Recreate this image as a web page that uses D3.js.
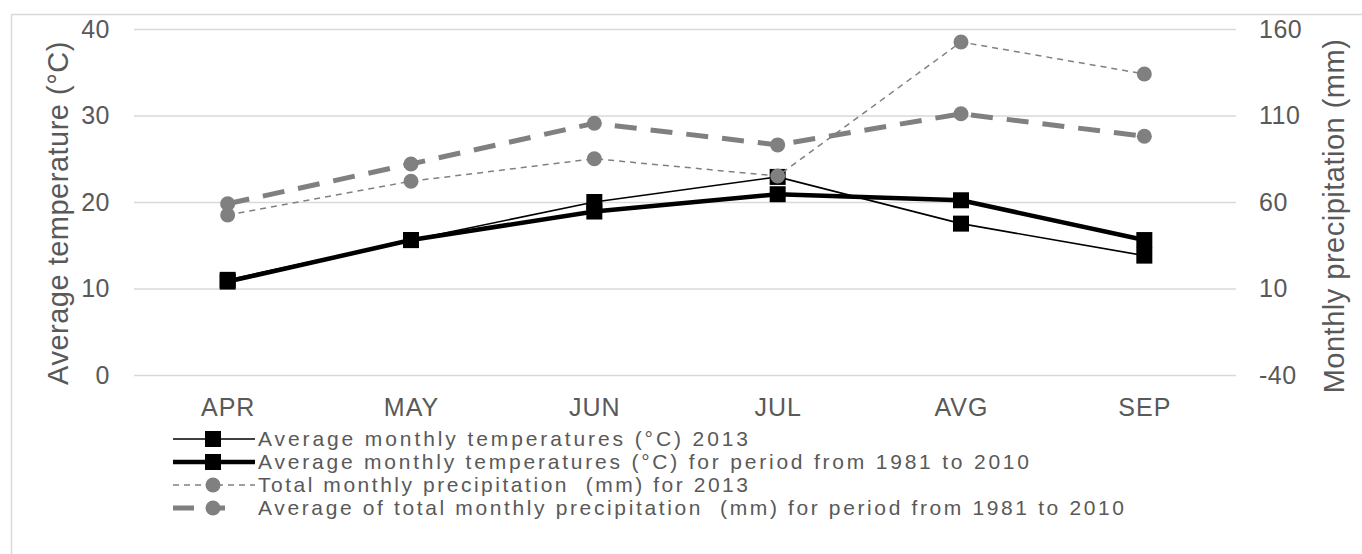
<!DOCTYPE html>
<html><head><meta charset="utf-8">
<script src="https://cdn.jsdelivr.net/npm/d3@7"></script>
<style>
body{margin:0;background:#fff;}
svg text{font-family:"Liberation Sans",Arial,sans-serif;fill:#595959;white-space:pre;}
</style></head>
<body><svg id="c" width="1362" height="554"></svg>
<script>
const months = ["APR","MAY","JUN","JUL","AVG","SEP"];
const temp2013 = [11.0, 15.6, 20.0, 22.9, 17.5, 13.8];
const tempAvg = [10.8, 15.6, 18.9, 20.9, 20.2, 15.6];
const precip2013 = [52.5, 72, 85, 75, 152.5, 134];
const precipAvg = [59, 82, 105.5, 93, 111, 98];
const tempTicks = [0, 10, 20, 30, 40];
const precipTicks = [-40, 10, 60, 110, 160];
const seriesNames = [
  "Average monthly temperatures (°C) 2013",
  "Average monthly temperatures (°C) for period from 1981 to 2010",
  "Total monthly precipitation  (mm) for 2013",
  "Average of total monthly precipitation  (mm) for period from 1981 to 2010"
];

const svg = d3.select("#c");
const L = 136, R = 1236, T = 29, B = 375;
const x = d3.scalePoint().domain(months).range([L, R]).padding(0.5);
const yL = d3.scaleLinear().domain([0, 40]).range([B, T]);
const yR = d3.scaleLinear().domain([-40, 160]).range([B, T]);
const fmt = d => String(d);

// outer border
svg.append("rect").attr("x", 11.5).attr("y", 14.5).attr("width", 1400).attr("height", 600)
  .attr("fill", "none").attr("stroke", "#d9d9d9").attr("stroke-width", 1.5);

// left axis + gridlines
const gl = svg.append("g").attr("transform", `translate(${L},0)`)
  .call(d3.axisLeft(yL).tickValues(tempTicks).tickFormat(fmt).tickSize(-(R - L + 2)).tickPadding(26));
gl.select(".domain").remove();
gl.selectAll(".tick line").attr("stroke", "#d9d9d9").attr("stroke-width", 1.5).attr("transform", "translate(-2,0)");
gl.selectAll(".tick text").style("font-size", "25px").style("letter-spacing", "0.5px");

// right axis
const gr = svg.append("g").attr("transform", `translate(${R},0)`)
  .call(d3.axisRight(yR).tickValues(precipTicks).tickFormat(fmt).tickSize(0).tickPadding(23));
gr.select(".domain").remove();
gr.selectAll(".tick text").style("font-size", "25px").style("letter-spacing", "0.5px");

// x axis
const gx = svg.append("g").attr("transform", `translate(0,${B})`)
  .call(d3.axisBottom(x).tickSize(0).tickPadding(23));
gx.select(".domain").remove();
gx.selectAll(".tick text").style("font-size", "25px").style("letter-spacing", "1px");

// axis titles
svg.append("text").attr("transform", "translate(68,213) rotate(-90)").attr("text-anchor", "middle")
  .style("font-size", "29px").style("letter-spacing", "0.5px").text("Average temperature (°C)");
svg.append("text").attr("transform", "translate(1344,216) rotate(-90)").attr("text-anchor", "middle")
  .style("font-size", "29px").style("letter-spacing", "0.5px").text("Monthly precipitation (mm)");

const styles = [
  {data: temp2013, y: yL, color: "#000", width: 1.6, dash: null, marker: "square", legDash: null},
  {data: tempAvg, y: yL, color: "#000", width: 4.5, dash: null, marker: "square", legDash: null},
  {data: precip2013, y: yR, color: "#808080", width: 1.5, dash: "6,5", marker: "circle", legDash: "6,5"},
  {data: precipAvg, y: yR, color: "#808080", width: 5, dash: "22,14", marker: "circle", legDash: "21,19,12,40"}
];

function drawMarker(g, type, cx, cy, color) {
  if (type === "square") {
    g.append("rect").attr("x", cx - 8).attr("y", cy - 8).attr("width", 16).attr("height", 16).attr("fill", color);
  } else {
    g.append("circle").attr("cx", cx).attr("cy", cy).attr("r", 7.5).attr("fill", color);
  }
}

styles.forEach(s => {
  const g = svg.append("g");
  const line = d3.line().x((d, i) => x(months[i])).y(d => s.y(d));
  g.append("path").attr("d", line(s.data)).attr("fill", "none").attr("stroke", s.color)
    .attr("stroke-width", s.width).attr("stroke-dasharray", s.dash);
  s.data.forEach((d, i) => drawMarker(g, s.marker, x(months[i]), s.y(d), s.color));
});

// legend
const legY = [439, 462, 485, 508];
const legW = [490, 771, 490, 866];
styles.forEach((s, i) => {
  const g = svg.append("g");
  g.append("line").attr("x1", 173).attr("x2", 255).attr("y1", legY[i]).attr("y2", legY[i])
    .attr("stroke", s.color).attr("stroke-width", s.width).attr("stroke-dasharray", s.legDash);
  drawMarker(g, s.marker, 213, legY[i], s.color);
  g.append("text").attr("x", 258).attr("y", legY[i]).attr("dy", "0.35em").style("font-size", "21px")
    .attr("textLength", legW[i]).attr("lengthAdjust", "spacing").text(seriesNames[i]);
});
</script></body></html>
